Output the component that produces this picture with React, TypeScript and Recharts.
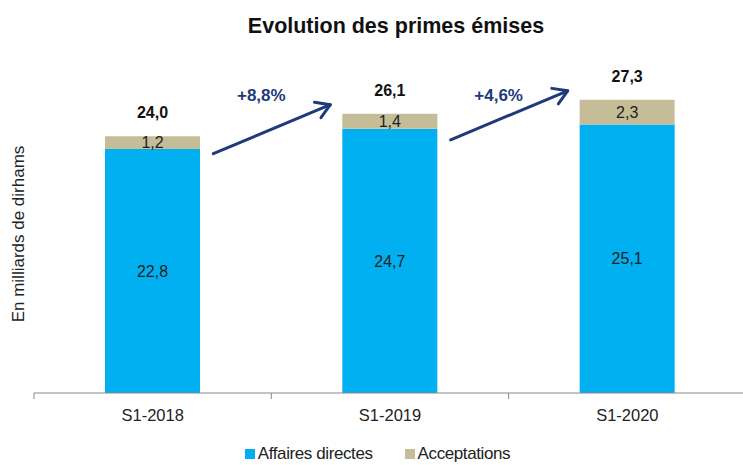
import { BarChart, Bar, XAxis, YAxis, Legend, LabelList } from 'recharts'

const categories = ['S1-2018', 'S1-2019', 'S1-2020']
const affairesDirectes = [22.8, 24.7, 25.1]
const acceptations = [1.2, 1.4, 2.3]
const totals = [24.0, 26.1, 27.3]
// growth from previous period, drawn as an arrow pointing to the bar
const growth = ['', '+8,8%', '+4,6%']

const data = categories.map((periode, i) => ({
  periode,
  directes: affairesDirectes[i],
  acceptations: acceptations[i],
  total: totals[i],
}))

const BLUE = '#00B0F0'
const TAN = '#C4BD97'
const NAVY = '#1F3A7A'
const FONT = '"Liberation Sans", Arial, sans-serif'

const fmt = (v: number) => v.toFixed(1).replace('.', ',')

// tick lines sit on the category boundaries, label in the middle
// eslint-disable-next-line @typescript-eslint/no-explicit-any
const AxisTick = (props: any) => {
  const { x, y, payload, index } = props
  const half = payload?.offset || 118
  return (
    <g>
      <line x1={x - half} x2={x - half} y1={y} y2={y + 6} stroke="#888" strokeWidth={1} />
      {index === categories.length - 1 && (
        <line x1={x + half} x2={x + half} y1={y} y2={y + 6} stroke="#888" strokeWidth={1} />
      )}
      <text x={x} y={y + 28} textAnchor="middle" fontSize={16.5} fill="#222" fontFamily={FONT}>
        {payload.value}
      </text>
    </g>
  )
}

// total above the stack + growth arrow coming from the previous bar
// eslint-disable-next-line @typescript-eslint/no-explicit-any
const TopLabel = (props: any) => {
  const { x, y, width, index } = props
  const cx = x + width / 2
  const sx = x - 129
  const sy = y + 40
  const ex = x - 12
  const ey = y - 9
  const ang = Math.atan2(ey - sy, ex - sx)
  const head = 16
  const h1x = ex - head * Math.cos(ang - 0.55)
  const h1y = ey - head * Math.sin(ang - 0.55)
  const h2x = ex - head * Math.cos(ang + 0.55)
  const h2y = ey - head * Math.sin(ang + 0.55)
  return (
    <g>
      <text x={cx} y={y - 18} textAnchor="middle" fontSize={16} fontWeight="bold" fill="#111" fontFamily={FONT}>
        {fmt(totals[index])}
      </text>
      {growth[index] && (
        <g>
          <line x1={sx} y1={sy} x2={ex} y2={ey} stroke={NAVY} strokeWidth={3} strokeLinecap="round" />
          <polyline
            points={`${h1x},${h1y} ${ex},${ey} ${h2x},${h2y}`}
            fill="none"
            stroke={NAVY}
            strokeWidth={3}
            strokeLinecap="round"
            strokeLinejoin="round"
          />
          <text x={x - 81} y={101} textAnchor="middle" fontSize={17} fontWeight="bold" fill={NAVY} fontFamily={FONT}>
            {growth[index]}
          </text>
        </g>
      )}
    </g>
  )
}

const legendItems = [
  { name: 'Affaires directes', color: BLUE },
  { name: 'Acceptations', color: TAN },
]

const LegendContent = () => (
  <div
    style={{
      display: 'flex',
      justifyContent: 'center',
      alignItems: 'center',
      height: 20,
      paddingLeft: 12,
      fontFamily: FONT,
      fontSize: 17,
      letterSpacing: -0.4,
      color: '#222',
    }}
  >
    {legendItems.map((it, i) => (
      <span key={it.name} style={{ display: 'flex', alignItems: 'center', marginLeft: i ? 32 : 0 }}>
        <span style={{ width: 10, height: 10, background: it.color, marginRight: 3, display: 'inline-block' }} />
        {it.name}
      </span>
    ))}
  </div>
)

export default function App() {
  return (
    <div style={{ position: 'absolute', left: 0, top: 0, width: 743, height: 465, background: '#fff' }}>
      <BarChart
        width={743}
        height={465}
        data={data}
        margin={{ top: 72, right: -3, left: 34, bottom: 22 }}
      >
        <text x={396} y={33} textAnchor="middle" fontSize={21.5} fontWeight="bold" fill="#111" fontFamily={FONT}>
          Evolution des primes émises
        </text>
        <text
          x={18}
          y={234}
          transform="rotate(-90 18 234)"
          textAnchor="middle"
          dominantBaseline="central"
          fontSize={17}
          fill="#222"
          fontFamily={FONT}
        >
          En milliards de dirhams
        </text>
        <XAxis
          dataKey="periode"
          stroke="#888"
          tickLine={false}
          tickSize={0}
          tickMargin={0}
          height={30}
          tick={<AxisTick />}
        />
        <YAxis hide domain={[0, 30]} />
        <Legend
          verticalAlign="bottom"
          height={20}
          content={<LegendContent />}
          wrapperStyle={{ bottom: 1, left: 0, width: 743 }}
        />
        <Bar dataKey="directes" name="Affaires directes" stackId="a" fill={BLUE} barSize={95} isAnimationActive={false}>
          <LabelList dataKey="directes" position="center" formatter={(v: number) => fmt(v)} fill="#222" fontSize={16} fontFamily={FONT} />
        </Bar>
        <Bar dataKey="acceptations" name="Acceptations" stackId="a" fill={TAN} barSize={95} isAnimationActive={false}>
          <LabelList dataKey="acceptations" position="center" formatter={(v: number) => fmt(v)} fill="#222" fontSize={16} fontFamily={FONT} />
          <LabelList dataKey="total" content={<TopLabel />} />
        </Bar>
      </BarChart>
    </div>
  )
}
